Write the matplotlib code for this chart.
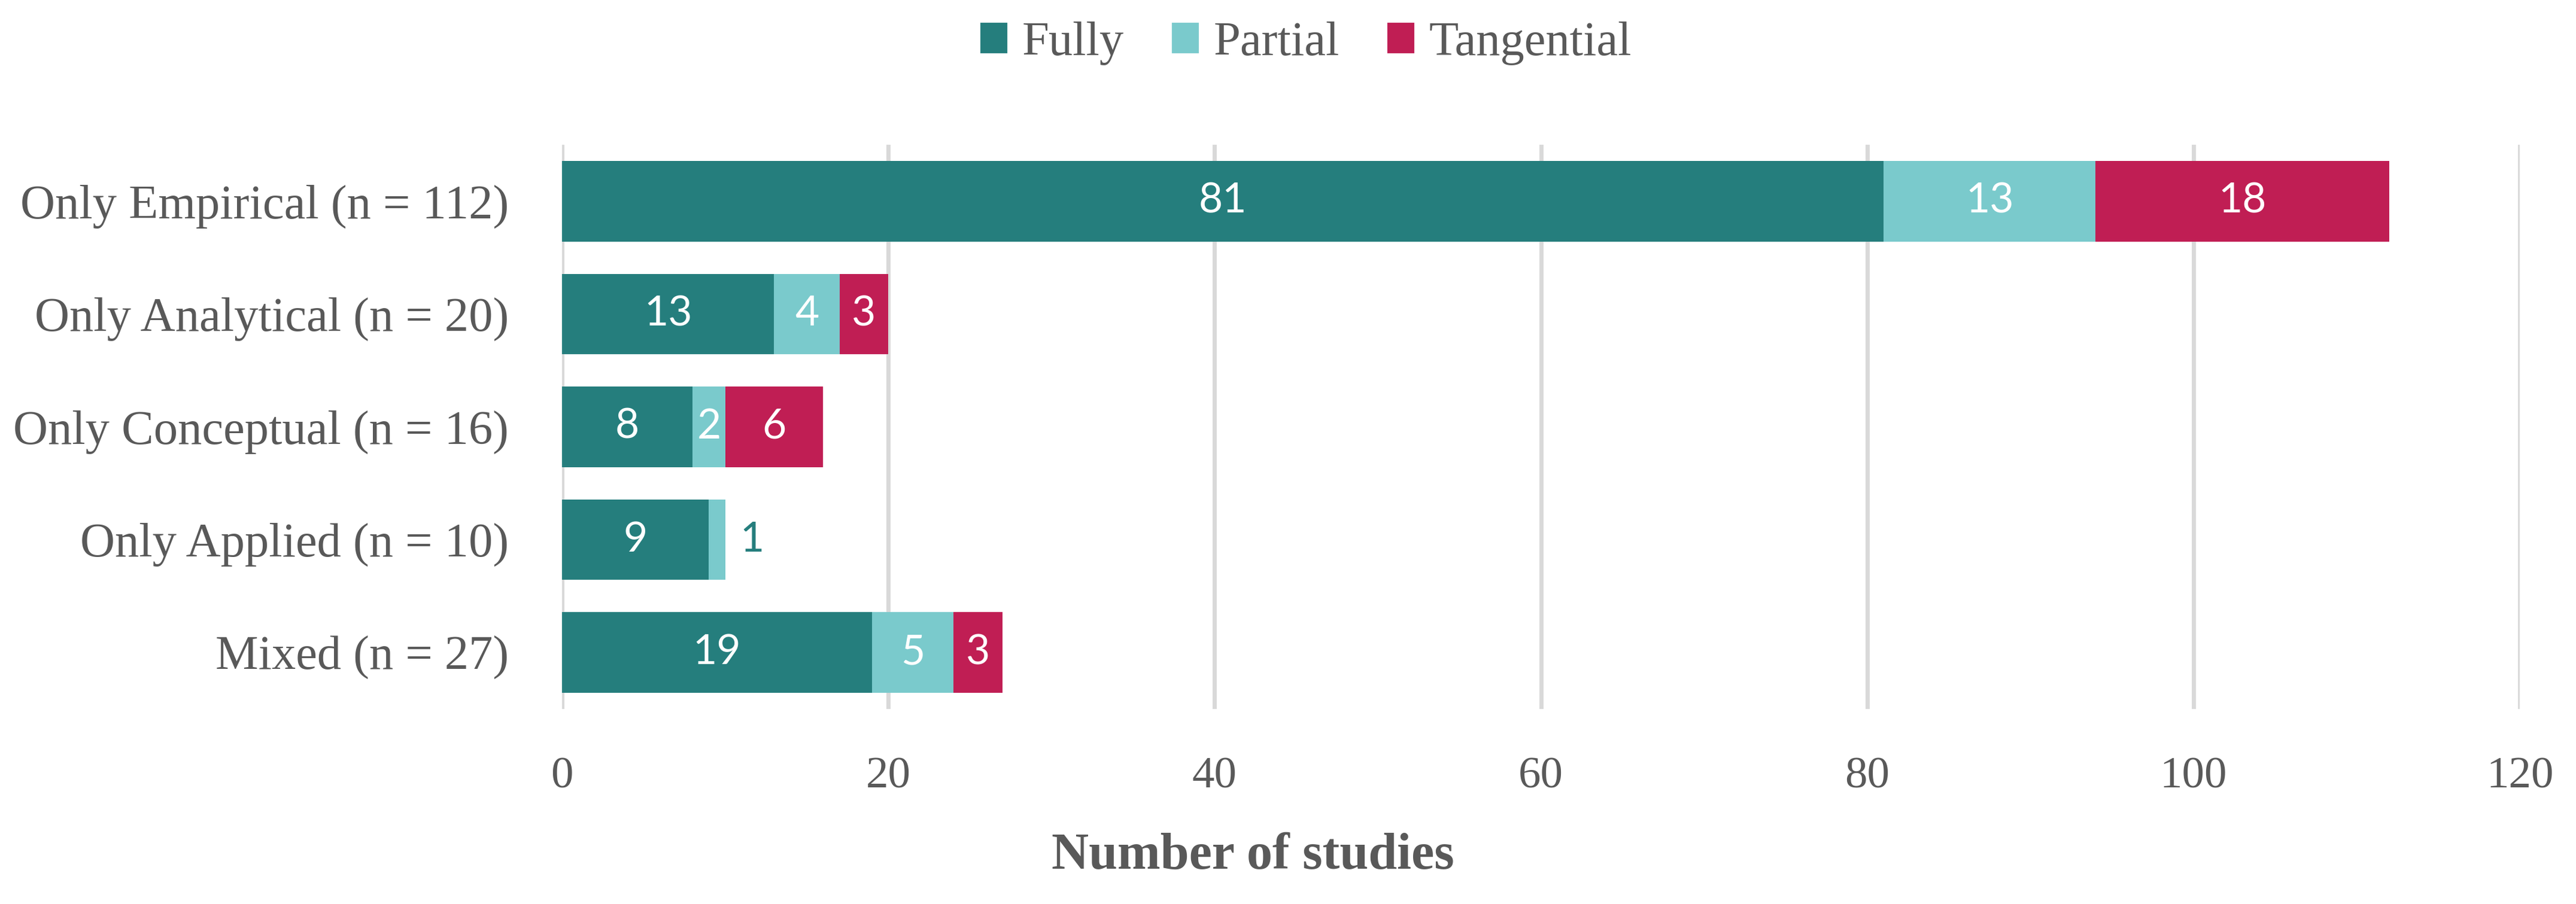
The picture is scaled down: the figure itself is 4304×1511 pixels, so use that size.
"""
Stacked horizontal bars: relevance of studies by research type
"""
import numpy as np
import matplotlib
matplotlib.use("Agg")
import matplotlib.pyplot as plt

categories = ["Only Empirical (n = 112)", "Only Analytical (n = 20)",
              "Only Conceptual (n = 16)", "Only Applied (n = 10)", "Mixed (n = 27)"]
fully = [81, 13, 8, 9, 19]
partial = [13, 4, 2, 1, 5]
tangential = [18, 3, 6, 0, 3]
series_names = ["Fully", "Partial", "Tangential"]
xticks = [0, 20, 40, 60, 80, 100, 120]

colors = ["#257E7D", "#7ACACC", "#C01E54"]
text_grey = "#595959"
serif = "Liberation Serif"

fig = plt.figure(figsize=(21.52, 7.555), dpi=200)
ax = fig.add_axes([0.2182, 0.2158, 0.9782 - 0.2182, 0.8398 - 0.2158])

y = np.arange(len(categories))
left = np.zeros(len(categories))
for name, vals, col in zip(series_names, [fully, partial, tangential], colors):
    vals = np.array(vals, dtype=float)
    bars = ax.barh(y, vals, left=left, height=0.715, color=col, label=name, zorder=3)
    for rect, v in zip(bars, vals):
        if v == 0:
            continue
        cy = rect.get_y() + rect.get_height() / 2
        if v < 2:
            # too narrow to hold its label, put it just past the bar end
            ax.annotate(f"{int(v)}", (rect.get_x() + rect.get_width(), cy),
                        xytext=(9, 0), textcoords="offset points",
                        ha="left", va="center", color=colors[0],
                        fontsize=25, family="Lato")
        else:
            ax.text(rect.get_x() + rect.get_width() / 2, cy, f"{int(v)}",
                    ha="center", va="center", color="white",
                    fontsize=25, family="Lato", zorder=4)
    left += vals

ax.set_xlim(0, 120)
ax.set_ylim(len(categories) - 0.5, -0.5)
ax.set_xticks(xticks)
ax.set_yticks(y)
ax.set_yticklabels(categories)
ax.grid(axis="x", color="#D9D9D9", linewidth=2.5, zorder=0)
ax.set_axisbelow(True)
for s in ax.spines.values():
    s.set_visible(False)
ax.tick_params(axis="x", length=0, pad=29, labelsize=27, labelcolor=text_grey)
ax.tick_params(axis="y", length=0, pad=32, labelsize=29, labelcolor=text_grey)
for lab in ax.get_xticklabels() + ax.get_yticklabels():
    lab.set_family(serif)

ax.set_xlabel("Number of studies", fontsize=31, fontweight="bold",
              family=serif, color=text_grey, va="center")
ax.xaxis.set_label_coords(0.3528, -0.261)

leg = fig.legend(loc="center", bbox_to_anchor=(0.507, 0.952), ncol=3,
                 frameon=False, handlelength=0.56, handleheight=0.6,
                 handletextpad=0.3, columnspacing=1.0,
                 prop={"family": serif, "size": 29})
for t in leg.get_texts():
    t.set_color(text_grey)

fig.savefig("out.png", dpi=200)
plt.close(fig)
